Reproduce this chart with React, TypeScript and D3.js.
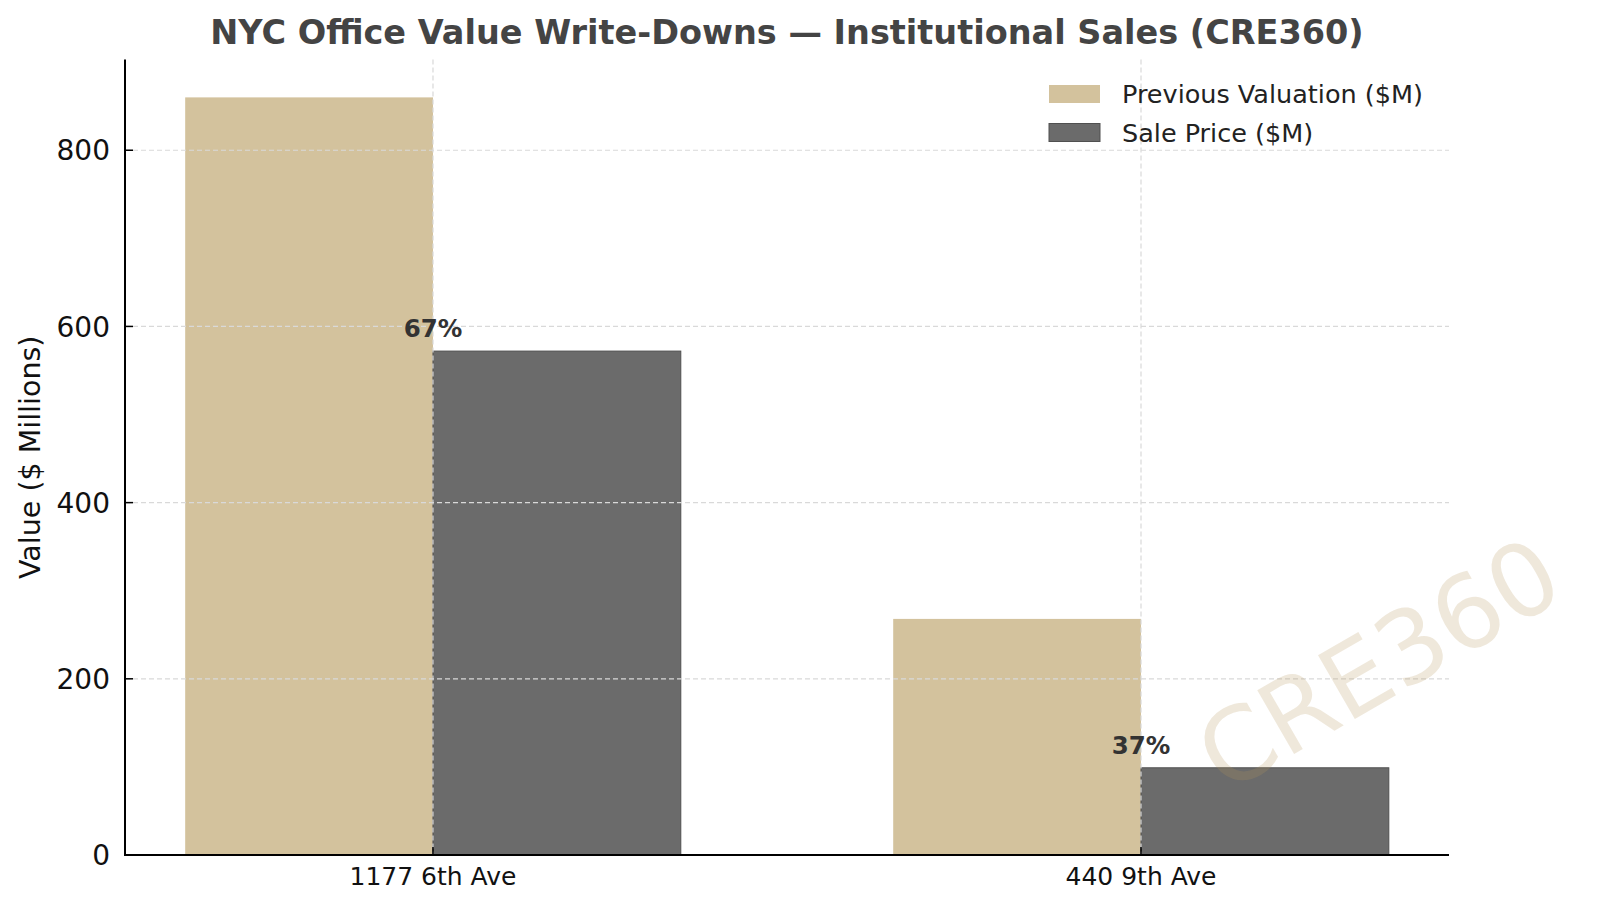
import React from "react";
import * as d3 from "d3";

const categories = ["1177 6th Ave", "440 9th Ave"];
const previousValuation = [860, 268];
const salePrice = [572, 99];
const yTicks = [0, 200, 400, 600, 800];
const seriesNames = ["Previous Valuation ($M)", "Sale Price ($M)"];
const titleText = "NYC Office Value Write-Downs — Institutional Sales (CRE360)";

const W = 1600;
const H = 910;
const FONT = "DejaVu Sans, Verdana, sans-serif";
const TAN = "#d3c29d";
const GRAY = "#6b6b6b";

export default function App() {
  const barW = 0.35;
  const x = d3.scaleLinear().domain([-0.435, 1.435]).range([125, 1449]);
  const y = d3.scaleLinear().domain([0, 903]).range([855, 59.5]);
  const bw = x(barW) - x(0);
  const wmX = 1378;
  const wmY = 663;

  return (
    <svg width={W} height={H} style={{ position: "absolute", left: 0, top: 0, background: "#fff" }}>
      {/* bars */}
      {categories.map((c, i) => (
        <g key={c}>
          <rect x={x(i - barW)} y={y(previousValuation[i])} width={bw} height={y(0) - y(previousValuation[i])} fill={TAN} />
          <rect
            x={x(i)}
            y={y(salePrice[i])}
            width={bw}
            height={y(0) - y(salePrice[i])}
            fill={GRAY}
            stroke="#505050"
            strokeWidth={1}
          />
        </g>
      ))}

      {/* grid */}
      {yTicks.map((t) => (
        <line key={"gy" + t} x1={x.range()[0]} x2={x.range()[1]} y1={y(t)} y2={y(t)} stroke="#d9d9d9" strokeWidth={1.2} strokeDasharray="5,3" />
      ))}
      {categories.map((c, i) => (
        <line key={"gx" + c} x1={x(i)} x2={x(i)} y1={y.range()[1]} y2={y(0)} stroke="#d9d9d9" strokeWidth={1.2} strokeDasharray="5,3" />
      ))}

      {/* watermark */}
      <text
        x={wmX}
        y={wmY}
        dy="0.365em"
        transform={`rotate(-30 ${wmX} ${wmY})`}
        textAnchor="middle"
        fontFamily={FONT}
        fontSize={101}
        fill="#b8975a"
        fillOpacity={0.22}
      >
        CRE360
      </text>

      {/* percent labels */}
      {categories.map((c, i) => (
        <text
          key={"p" + c}
          x={x(i)}
          y={y(salePrice[i]) - 14}
          textAnchor="middle"
          fontFamily={FONT}
          fontWeight="bold"
          fontSize={24.5}
          fill="#333"
        >
          {Math.round((salePrice[i] / previousValuation[i]) * 100)}%
        </text>
      ))}

      {/* axes */}
      <line x1={x.range()[0]} x2={x.range()[0]} y1={y.range()[1]} y2={y(0) + 1} stroke="#000" strokeWidth={2} />
      <line x1={x.range()[0] - 1} x2={x.range()[1]} y1={y(0)} y2={y(0)} stroke="#000" strokeWidth={2} />
      {yTicks.map((t) => (
        <g key={"yt" + t}>
          <line x1={x.range()[0]} x2={x.range()[0] + 8} y1={y(t)} y2={y(t)} stroke="#000" strokeWidth={1.5} />
          <text x={x.range()[0] - 15} y={y(t)} dy="0.36em" textAnchor="end" fontFamily={FONT} fontSize={28} fill="#111">
            {t}
          </text>
        </g>
      ))}
      {categories.map((c, i) => (
        <g key={"xt" + c}>
          <line x1={x(i)} x2={x(i)} y1={y(0)} y2={y(0) - 8} stroke="#000" strokeWidth={1.5} />
          <text x={x(i)} y={885} textAnchor="middle" fontFamily={FONT} fontSize={25} fill="#111">
            {c}
          </text>
        </g>
      ))}

      {/* y label */}
      <text
        transform={`translate(40 ${(y.range()[0] + y.range()[1]) / 2}) rotate(-90)`}
        textAnchor="middle"
        fontFamily={FONT}
        fontSize={28.5}
        fill="#111"
      >
        Value ($ Millions)
      </text>

      {/* title */}
      <text x={(x.range()[0] + x.range()[1]) / 2} y={44} textAnchor="middle" fontFamily={FONT} fontWeight="bold" fontSize={33.5} fill="#444">
        {titleText}
      </text>

      {/* legend */}
      {seriesNames.map((s, i) => (
        <g key={s}>
          <rect x={1049} y={85 + i * 38.5} width={51} height={18} fill={i === 0 ? TAN : GRAY} stroke={i === 0 ? "none" : "#505050"} strokeWidth={1} />
          <text x={1122} y={103 + i * 38.5} fontFamily={FONT} fontSize={25.5} fill="#222">
            {s}
          </text>
        </g>
      ))}
    </svg>
  );
}
